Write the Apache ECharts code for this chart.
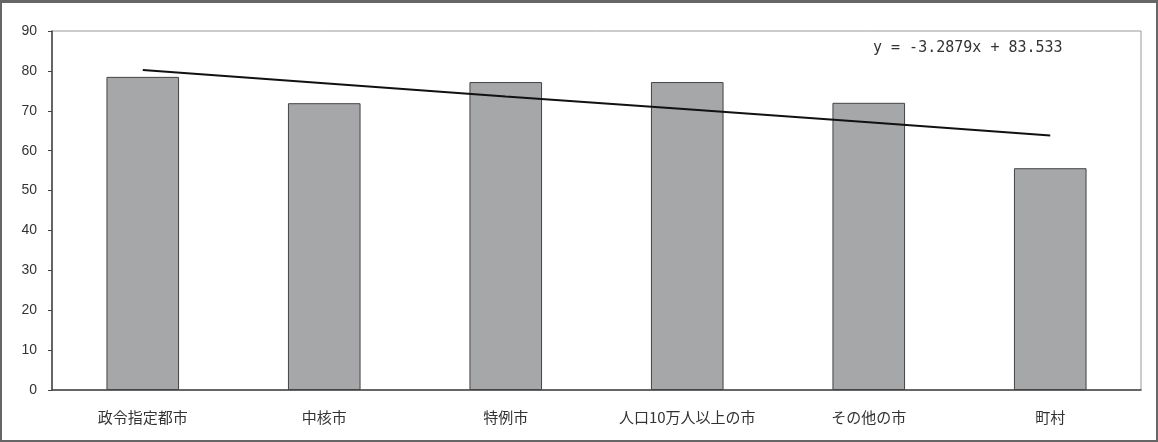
<!DOCTYPE html>
<html>
<head>
    <meta charset="utf-8">
    <title>ECharts</title>
    <script src="https://cdn.jsdelivr.net/npm/echarts@6/dist/echarts.min.js"></script>
    <style>
        html, body { margin: 0; padding: 0; background: #fff; }
        #main { width: 1158px; height: 442px; box-sizing: border-box; border: 2px solid #666; border-top-width: 3px; }
    </style>
</head>
<body>
    <div id="main"></div>
    <script type="text/javascript">
        // カテゴリと値
        var categories = ['政令指定都市', '中核市', '特例市', '人口10万人以上の市', 'その他の市', '町村'];
        var barValues = [78.5, 71.9, 77.2, 77.2, 72.0, 55.6];
        var trendValues = [80.2, 76.9, 73.6, 70.4, 67.1, 63.8];
        var yTicks = [0, 10, 20, 30, 40, 50, 60, 70, 80, 90];
        var equation = 'y = -3.2879x + 83.533';

        var myChart = echarts.init(document.getElementById('main'));

        var option = {
            backgroundColor: '#fff',
            animation: false,
            textStyle: { fontFamily: '"Noto Sans CJK JP", sans-serif' },
            grid: {
                left: 50, top: 28, right: 15, bottom: 50,
                show: true, borderColor: '#999', borderWidth: 1
            },
            graphic: [{
                type: 'text',
                left: 871, top: 38,
                style: {
                    text: equation,
                    fontSize: 15,
                    fontFamily: '"DejaVu Sans Mono", monospace',
                    fill: '#333'
                }
            }],
            xAxis: {
                type: 'category',
                data: categories,
                axisLine: { lineStyle: { color: '#444', width: 1.5 } },
                axisTick: { inside: true, length: 6, lineStyle: { color: '#444' } },
                axisLabel: { color: '#333', fontSize: 15, margin: 20 }
            },
            yAxis: {
                type: 'value',
                min: yTicks[0],
                max: yTicks[yTicks.length - 1],
                interval: 10,
                splitLine: { show: false },
                axisLine: { show: true, lineStyle: { color: '#444', width: 1.5 } },
                axisTick: { show: true, length: 4, lineStyle: { color: '#444' } },
                axisLabel: { color: '#333', fontSize: 14, margin: 15, fontFamily: 'Arial, "Liberation Sans", sans-serif' }
            },
            series: [{
                type: 'bar',
                data: barValues,
                barWidth: '40%',
                itemStyle: { color: '#a6a7a8', borderColor: '#444', borderWidth: 1 }
            }, {
                type: 'line',
                data: trendValues,
                symbol: 'none',
                lineStyle: { color: '#111', width: 2 }
            }]
        };
        myChart.setOption(option);
    </script>
</body>
</html>
